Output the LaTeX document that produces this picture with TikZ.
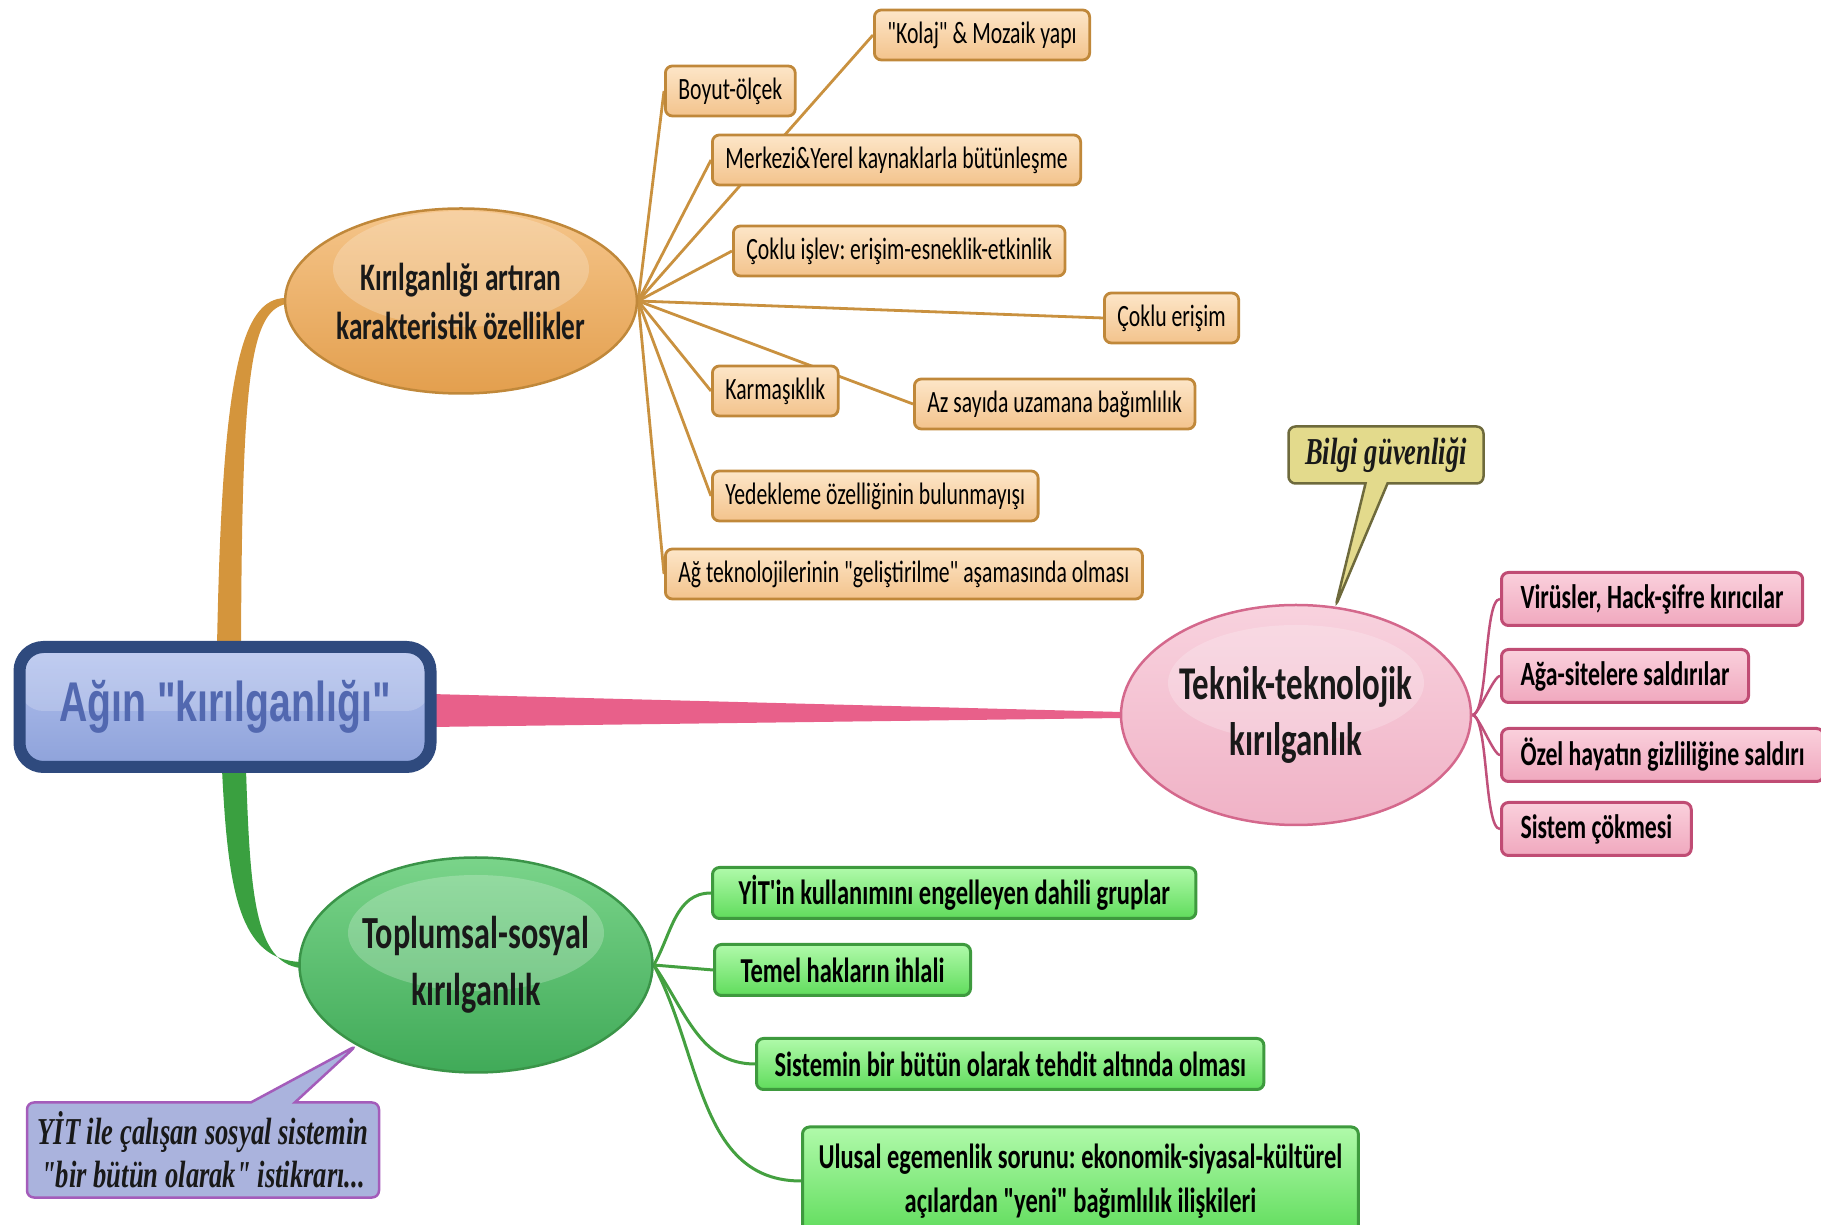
\documentclass[tikz,border=0pt]{standalone}
\usepackage{fontspec}
\setmainfont{Carlito}[FakeStretch=0.7,Ligatures=TeXOff]
\newfontfamily\notefont{Liberation Serif}[FakeStretch=0.7]
\newfontfamily\rootfont{Liberation Sans}[FakeStretch=0.7]
\usetikzlibrary{shapes.geometric,shapes.callouts,backgrounds,calc}
\frenchspacing

\newcommand{\fsz}[2]{\fontsize{#1}{#2}\selectfont}

\definecolor{orLine}{HTML}{C9913F}
\definecolor{orBranch}{HTML}{D4953C}
\definecolor{orBorder}{HTML}{C0883A}
\definecolor{orTop}{HTML}{FDE6C8}
\definecolor{orBot}{HTML}{F3C38C}
\definecolor{orEllTop}{HTML}{F5C58A}
\definecolor{orEllBot}{HTML}{E39F4E}
\definecolor{pkLine}{HTML}{C0507A}
\definecolor{pkBranch}{HTML}{E8608A}
\definecolor{pkBorder}{HTML}{C04C74}
\definecolor{pkTop}{HTML}{FAD0DC}
\definecolor{pkBot}{HTML}{F0A8BE}
\definecolor{pkEllTop}{HTML}{F8D2DE}
\definecolor{pkEllBot}{HTML}{F0B2C6}
\definecolor{pkEllBorder}{HTML}{D4688C}
\definecolor{gnLine}{HTML}{44A040}
\definecolor{gnBranch}{HTML}{3AA040}
\definecolor{gnBorder}{HTML}{3E9A3E}
\definecolor{gnTop}{HTML}{B0FAAA}
\definecolor{gnBot}{HTML}{60DC5C}
\definecolor{gnEllTop}{HTML}{7AD48A}
\definecolor{gnEllBot}{HTML}{40AA58}
\definecolor{gnEllBorder}{HTML}{3A9448}
\definecolor{rootBorder}{HTML}{2F4A7E}
\definecolor{rootTop}{HTML}{B2C1EE}
\definecolor{rootBot}{HTML}{8EA2DA}
\definecolor{rootText}{HTML}{5268B0}
\definecolor{noteYel}{HTML}{E3DA8C}
\definecolor{noteYelBorder}{HTML}{6E6A3C}
\definecolor{notePur}{HTML}{AAB3DD}
\definecolor{notePurBorder}{HTML}{A45CBA}

\begin{document}
\begin{tikzpicture}[x=1pt,y=1pt,
  leaf/.style={draw, rounded corners=7pt, anchor=west, inner ysep=0pt, text=black},
  orleaf/.style={leaf, line width=2.8pt, draw=orBorder, top color=orTop, bottom color=orBot,
    minimum height=50, inner xsep=13, font=\fsz{31}{36}},
  pkleaf/.style={leaf, line width=3pt, draw=pkBorder, top color=pkTop, bottom color=pkBot,
    minimum height=53, inner xsep=19, font=\bfseries\fsz{34}{38}},
  gnleaf/.style={leaf, line width=3pt, draw=gnBorder, top color=gnTop, bottom color=gnBot,
    minimum height=51, inner xsep=26, font=\bfseries\fsz{35}{44}},
  topic/.style={ellipse, inner sep=0pt, line width=2.5pt, align=center, text=black!90,
    path picture={\fill[white,opacity=.22] ($(path picture bounding box.center)+(0,32)$)
      ellipse [x radius=128, y radius=58];}},
  note/.style={rectangle callout, rounded corners=7pt, line width=2.5pt, align=center,
    callout pointer width=22pt, text=black!90, font=\notefont\bfseries\itshape\fsz{38}{43}},
  orline/.style={orLine, line width=2.8pt},
  pkline/.style={pkLine, line width=2.5pt},
  gnline/.style={gnLine, line width=3pt}]
\useasboundingbox (0,0) rectangle (1821,1224);

% main node
\node[draw=rootBorder, line width=12pt, rounded corners=24pt, top color=rootTop, bottom color=rootBot,
  minimum width=411, minimum height=120, text=rootText, font=\rootfont\bfseries\fsz{56}{60},
  path picture={\fill[white,opacity=.2] (path picture bounding box.north west)
    rectangle ($(path picture bounding box.east)+(0,-4)$);}] (root) at (225,517) {Ağın "kırılganlığı"};

% three topics
\node[topic, draw=orBorder, top color=orEllTop, bottom color=orEllBot, minimum width=348, minimum height=185,
  font=\bfseries\fsz{39}{49}] (kar) at (461,923) {Kırılganlığı artıran\\karakteristik özellikler};
\node[topic, draw=pkEllBorder, top color=pkEllTop, bottom color=pkEllBot, minimum width=350, minimum height=220,
  font=\bfseries\fsz{47}{56}] (tech) at (1296,509) {Teknik-teknolojik\\kırılganlık};
\node[topic, draw=gnEllBorder, top color=gnEllTop, bottom color=gnEllBot, minimum width=353, minimum height=215,
  font=\bfseries\fsz{46}{57}] (soc) at (476,259) {Toplumsal-sosyal\\kırılganlık};

% orange leaves
\node[orleaf] (boyut) at (664,1133) {Boyut-ölçek};
\node[orleaf] (kolaj) at (873,1189) {"Kolaj" \& Mozaik yapı};
\node[orleaf] (merkezi) at (711,1064) {Merkezi\&Yerel kaynaklarla bütünleşme};
\node[orleaf] (islev) at (732,973) {Çoklu işlev: erişim-esneklik-etkinlik};
\node[orleaf] (erisim) at (1103,906) {Çoklu erişim};
\node[orleaf] (karmasik) at (711,833) {Karmaşıklık};
\node[orleaf] (uzman) at (913,820) {Az sayıda uzamana bağımlılık};
\node[orleaf] (yedek) at (711,728) {Yedekleme özelliğinin bulunmayışı};
\node[orleaf] (gelistirme) at (664,650) {Ağ teknolojilerinin "geliştirilme" aşamasında olması};

% pink leaves
\node[pkleaf] (virus) at (1500,625) {Virüsler, Hack-şifre kırıcılar};
\node[pkleaf] (saldiri) at (1500,548) {Ağa-sitelere saldırılar};
\node[pkleaf] (gizlilik) at (1500,469) {Özel hayatın gizliliğine saldırı};
\node[pkleaf] (cokme) at (1500,395) {Sistem çökmesi};

% green leaves
\node[gnleaf] (grup) at (711,331) {YİT'in kullanımını engelleyen dahili gruplar};
\node[gnleaf] (hak) at (713,254) {Temel hakların ihlali};
\node[gnleaf, inner xsep=18] (tehdit) at (755,160) {Sistemin bir bütün olarak tehdit altında olması};
\node[gnleaf, align=center, minimum height=108, inner xsep=16] (ulusal) at (801,43)
  {Ulusal egemenlik sorunu: ekonomik-siyasal-kültürel\\açılardan "yeni" bağımlılık ilişkileri};

% callouts
\node[note, fill=noteYel, draw=noteYelBorder, minimum width=195, minimum height=57,
  callout absolute pointer={(tech.70)}] (bilgi) at (1386,769) {Bilgi güvenliği};
\node[note, fill=notePur, draw=notePurBorder, minimum width=352, minimum height=95,
  callout pointer width=44pt, callout absolute pointer={(soc.214)}] (istikrar) at (203,74)
  {YİT ile çalışan sosyal sistemin\\"bir bütün olarak" istikrarı...};

\begin{scope}[on background layer]
% tapered branches
\fill[orBranch] ($(root.north)+(-8,-6)$) .. controls (222,845) and (240,926) .. ($(kar.west)+(2,3)$)
  -- ($(kar.west)+(2,-3)$) .. controls (250,912) and (242,845) .. ($(root.north)+(16,-6)$) -- cycle;
\fill[gnBranch] ($(root.south)+(-3,4)$) .. controls (228,330) and (240,265) .. ($(soc.west)+(2,3)$)
  -- ($(soc.west)+(2,-3)$) .. controls (255,262) and (250,330) .. ($(root.south)+(21,4)$) -- cycle;
\fill[pkBranch] ($(root.east)+(-6,13)$) -- ($(tech.west)+(2,3)$) -- ($(tech.west)+(2,-3)$)
  -- ($(root.east)+(-6,-20)$) -- cycle;
% connectors
\foreach \leaf in {boyut,kolaj,merkezi,islev,erisim,karmasik,uzman,yedek,gelistirme}
  \draw[orline] (kar.east) -- (\leaf.west);
\foreach \leaf in {virus,saldiri,gizlilik,cokme}
  \draw[pkline] (tech.east) to[out=0,in=180,looseness=0.35] (\leaf.west);
\draw[gnline] (soc.east) to[out=60,in=180] (grup.west);
\draw[gnline] (soc.east) -- (hak.west);
\draw[gnline] (soc.east) to[out=-55,in=180] (tehdit.west);
\draw[gnline] (soc.east) to[out=-62,in=180] (ulusal.west);
\end{scope}
\end{tikzpicture}
\end{document}
